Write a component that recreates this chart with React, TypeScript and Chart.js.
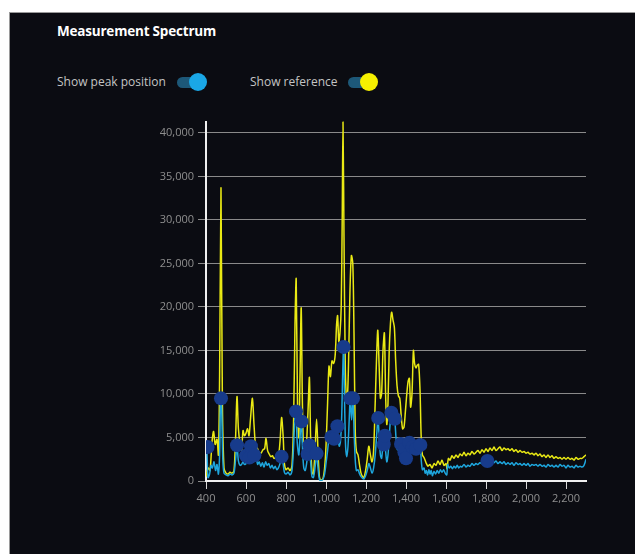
import React, { useEffect, useRef } from "react";
import { Chart, registerables } from "chart.js";

Chart.register(...registerables);

// Reference spectrum (yellow)
const refX = [
  400, 410, 420, 430, 438, 446, 455, 462, 468, 475, 482, 490, 500, 510, 520, 530, 540, 548, 555, 562,
  570, 578, 585, 592, 600, 608, 615, 622, 632, 640, 648, 656, 665, 675, 685, 693, 700, 708, 716, 724,
  732, 740, 750, 760, 770, 778, 786, 792, 800, 810, 820, 830, 838, 845, 851, 858, 864, 870, 876, 882,
  888, 895, 902, 910, 917, 923, 930, 937, 945, 953, 960, 967, 975, 985, 993, 1000, 1008, 1015, 1022, 1030,
  1038, 1046, 1053, 1058, 1064, 1070, 1076, 1081, 1085, 1090, 1096, 1102, 1108, 1114, 1120, 1127, 1134, 1140, 1146, 1152,
  1160, 1168, 1175, 1183, 1190, 1198, 1206, 1214, 1222, 1230, 1238, 1246, 1254, 1259, 1266, 1272, 1278, 1285, 1292, 1298,
  1304, 1310, 1316, 1322, 1328, 1335, 1342, 1348, 1355, 1362, 1369, 1376, 1383, 1390, 1397, 1404, 1411, 1417, 1423, 1430,
  1437, 1443, 1450, 1456, 1463, 1470, 1476, 1482, 1490, 1500, 1510, 1520, 1530, 1540, 1550, 1560, 1570, 1580, 1590, 1600,
  1605, 1612, 1620, 1630, 1640, 1650, 1660, 1670, 1680, 1690, 1700, 1710, 1720, 1730, 1740, 1750, 1760, 1770, 1780, 1790,
  1800, 1810, 1820, 1830, 1840, 1850, 1860, 1870, 1880, 1890, 1900, 1910, 1920, 1930, 1940, 1950, 1960, 1970, 1980, 1990,
  2000, 2010, 2020, 2030, 2040, 2050, 2060, 2070, 2080, 2090, 2100, 2110, 2120, 2130, 2140, 2150, 2160, 2170, 2180, 2190,
  2200, 2210, 2220, 2230, 2240, 2250, 2260, 2270, 2280, 2290, 2300,
];
const refY = [
  500, 1500, 1200, 4500, 5700, 4200, 4800, 3000, 12000, 33700, 9000, 1500, 900, 800, 1000, 900, 1200, 5000, 9700, 6000,
  4300, 3500, 5800, 5200, 5500, 6000, 5200, 7000, 9500, 6500, 4000, 3800, 3300, 3200, 3600, 3700, 4900, 3500, 3100, 2800,
  2900, 2600, 2700, 2500, 4500, 7300, 5000, 2000, 1300, 1500, 1200, 1800, 7000, 18000, 23200, 8000, 5000, 12000, 19900, 9000,
  3500, 2500, 4000, 8000, 11900, 5000, 1000, 800, 3500, 7100, 3500, 500, 100, 300, 1500, 4000, 9000, 13200, 12000, 13800,
  13500, 14500, 18000, 19000, 16000, 17000, 20000, 30000, 41300, 28000, 14000, 9500, 10000, 15000, 22000, 25900, 25000, 17000, 6000, 3400,
  3000, 1800, 900, 500, 400, 1200, 2500, 4000, 3000, 2200, 3500, 9000, 15000, 17300, 13000, 9500, 10000, 15000, 17000, 10000,
  6500, 9000, 15000, 18000, 19400, 18500, 17600, 14000, 11000, 9800, 9500, 7500, 6000, 6200, 8000, 10000, 11500, 11800, 8500, 10000,
  15000, 13500, 13000, 13300, 13400, 10500, 5000, 3000, 2700, 2100, 1700, 1900, 1500, 2000, 1800, 2300, 1900, 2400, 1800, 2000,
  1400, 2600, 2400, 2900, 2600, 3000, 2700, 3100, 2900, 3300, 2900, 3200, 3000, 3400, 3100, 3300, 3500, 3200, 3600, 3300,
  3700, 3400, 3800, 3500, 3900, 3500, 3700, 3900, 3500, 3800, 3600, 3700, 3500, 3700, 3400, 3600, 3300, 3500, 3300, 3400,
  3200, 3300, 3100, 3200, 3000, 3200, 2900, 3100, 2800, 3000, 2700, 3000, 2700, 2900, 2600, 2800, 2600, 2700, 2500, 2700,
  2500, 2700, 2500, 2600, 2400, 2700, 2500, 2600, 2600, 2800, 3000,
];

// Measured spectrum (blue)
const measX = [
  400, 404, 410, 418, 425, 432, 440, 448, 455, 462, 468, 473, 478, 484, 490, 500, 510, 520, 530, 540,
  548, 555, 562, 570, 578, 585, 592, 600, 608, 615, 622, 628, 635, 642, 650, 658, 666, 674, 682, 690,
  698, 706, 714, 722, 730, 738, 746, 754, 762, 770, 778, 786, 792, 800, 810, 820, 830, 838, 845, 850,
  856, 864, 870, 877, 883, 889, 896, 903, 909, 916, 923, 930, 937, 945, 953, 960, 967, 975, 985, 993,
  1000, 1008, 1015, 1022, 1030, 1038, 1046, 1053, 1060, 1066, 1072, 1078, 1083, 1088, 1093, 1098, 1104, 1110, 1116, 1121,
  1128, 1135, 1140, 1146, 1152, 1160, 1168, 1175, 1183, 1190, 1198, 1206, 1214, 1222, 1230, 1238, 1246, 1254, 1260, 1266,
  1272, 1278, 1285, 1292, 1298, 1304, 1310, 1316, 1322, 1328, 1335, 1343, 1350, 1357, 1364, 1371, 1378, 1385, 1392, 1397,
  1402, 1408, 1414, 1420, 1426, 1433, 1440, 1446, 1452, 1458, 1465, 1471, 1476, 1482, 1490, 1496, 1502, 1508, 1514, 1520,
  1526, 1532, 1540, 1548, 1556, 1564, 1572, 1580, 1588, 1596, 1604, 1608, 1616, 1624, 1632, 1640, 1648, 1656, 1664, 1672,
  1680, 1690, 1700, 1710, 1720, 1730, 1740, 1750, 1760, 1770, 1780, 1790, 1800, 1810, 1820, 1830, 1840, 1850, 1860, 1870,
  1880, 1890, 1900, 1910, 1920, 1930, 1940, 1950, 1960, 1970, 1980, 1990, 2000, 2010, 2020, 2030, 2040, 2050, 2060, 2070,
  2080, 2090, 2100, 2110, 2120, 2130, 2140, 2150, 2160, 2170, 2180, 2190, 2200, 2210, 2220, 2230, 2240, 2250, 2260, 2270,
  2280, 2290, 2300,
];
const measY = [
  3900, 3700, 400, 800, 1800, 1500, 2200, 1200, 1900, 800, 3000, 9500, 8500, 2500, 900, 700, 600, 800, 700, 900,
  2500, 4100, 2300, 1800, 1900, 2200, 1900, 2000, 2800, 2400, 3000, 4000, 3200, 2600, 2900, 1900, 2200, 1700, 2100, 1600,
  2200, 1800, 2000, 1500, 1800, 1400, 1700, 1300, 1500, 2000, 2800, 1900, 1000, 800, 1000, 700, 1200, 4000, 7500, 8100,
  4500, 3000, 5000, 6850, 3500, 1500, 1200, 2000, 3100, 4100, 2200, 500, 400, 1500, 3100, 1500, 200, 50, 200, 800,
  2000, 3500, 4800, 5000, 4800, 4700, 5500, 6300, 5000, 4000, 4500, 7000, 12000, 15400, 9000, 4000, 2800, 4000, 7000, 9500,
  7000, 9500, 6000, 2500, 1200, 1300, 800, 500, 300, 250, 600, 1200, 2000, 1500, 900, 1500, 3000, 5500, 7200, 5000,
  3000, 2600, 4200, 5200, 3500, 2200, 3000, 5000, 7000, 7800, 6500, 7100, 5000, 3600, 3900, 4200, 4300, 3500, 3300, 3600,
  2600, 3500, 4200, 4400, 3800, 3900, 3600, 3700, 3600, 3900, 4100, 4200, 2500, 1300, 1500, 900, 1200, 700, 1300, 800,
  1200, 600, 1100, 800, 1200, 900, 1300, 1000, 1300, 900, 700, 1900, 1500, 1700, 1400, 1700, 1500, 1800, 1500, 1700,
  1600, 1900, 1600, 1800, 1700, 2000, 1800, 2000, 1900, 2100, 2000, 2200, 2100, 2300, 2100, 2300, 2100, 2300, 2000, 2200,
  2000, 2200, 1900, 2100, 1900, 2100, 1800, 2100, 1900, 2000, 1800, 2000, 1800, 2000, 1700, 1900, 1800, 1900, 1700, 1900,
  1700, 1800, 1600, 1900, 1700, 1800, 1600, 1800, 1600, 1900, 1700, 1800, 1500, 1800, 1600, 1700, 1500, 1800, 1600, 1700,
  1600, 1800, 2500,
];

// Detected peak positions
const peakX = [
  408, 475, 555, 600, 617, 625, 642, 778, 850, 877, 908, 917, 953, 1027, 1040, 1057, 1088, 1122, 1135, 1261,
  1289, 1294, 1327, 1344, 1375, 1392, 1395, 1400, 1417, 1433, 1450, 1472, 1807,
];
const peakY = [
  3900, 9500, 4100, 2900, 2700, 4000, 2950, 2800, 8000, 6850, 3100, 4100, 3150, 5050, 4850, 6300, 15400, 9500, 9500, 7250,
  4200, 5200, 7850, 7150, 4250, 3300, 3700, 2600, 4400, 3900, 3700, 4150, 2300,
];

// Axis tick values
const xTicks = [400, 600, 800, 1000, 1200, 1400, 1600, 1800, 2000, 2200];
const yTicks = [0, 5000, 10000, 15000, 20000, 25000, 30000, 35000, 40000];

const FONT = "'Open Sans', 'Noto Sans', sans-serif";

function Toggle({ knob }: { knob: string }) {
  return (
    <span style={{ position: "relative", display: "inline-block", width: 30, height: 16, verticalAlign: "middle" }}>
      <span
        style={{
          position: "absolute",
          left: 0,
          top: 3,
          width: 27,
          height: 11,
          borderRadius: 6,
          background: "#1d5878",
        }}
      />
      <span
        style={{
          position: "absolute",
          left: 12,
          top: -1,
          width: 18,
          height: 18,
          borderRadius: 9,
          background: knob,
        }}
      />
    </span>
  );
}

export default function App() {
  const ref = useRef<HTMLCanvasElement | null>(null);

  useEffect(() => {
    document.body.style.overflow = "hidden";
    const ctx = ref.current!;
    const toPts = (xs: number[], ys: number[]) => xs.map((x, i) => ({ x, y: ys[i] }));
    const chart = new Chart(ctx, {
      type: "line",
      data: {
        datasets: [
          {
            label: "Peaks",
            data: toPts(peakX, peakY),
            showLine: false,
            pointRadius: 7,
            pointBackgroundColor: "#173b8b",
            pointBorderWidth: 0,
            backgroundColor: "#173b8b",
          },
          {
            label: "Measurement",
            data: toPts(measX, measY),
            borderColor: "#1ea6dd",
            borderWidth: 1.5,
            pointRadius: 0,
            tension: 0.3,
          },
          {
            label: "Reference",
            data: toPts(refX, refY),
            borderColor: "#e9e914",
            borderWidth: 1.5,
            pointRadius: 0,
            tension: 0.3,
          },
        ],
      },
      options: {
        animation: false,
        responsive: false,
        maintainAspectRatio: false,
        layout: { padding: { top: 10, right: 15, bottom: 0, left: 0 } },
        plugins: { legend: { display: false }, tooltip: { enabled: false } },
        scales: {
          x: {
            type: "linear",
            min: 400,
            max: 2300,
            afterFit: (s: any) => {
              s.height = 50;
            },
            afterBuildTicks: (s: any) => {
              s.ticks = xTicks.map((v) => ({ value: v }));
            },
            ticks: {
              color: "#8f8f8f",
              font: { size: 11, family: FONT },
              maxRotation: 0,
              autoSkip: false,
              padding: 3,
            },
            grid: { drawOnChartArea: false, drawTicks: true, tickLength: 8, color: "#d8d8d8" },
            border: { color: "#f0f0f0", width: 2 },
          },
          y: {
            type: "linear",
            min: 0,
            max: 41300,
            afterFit: (s: any) => {
              s.width = 65;
            },
            afterBuildTicks: (s: any) => {
              s.ticks = yTicks.map((v) => ({ value: v }));
            },
            ticks: {
              color: "#8f8f8f",
              font: { size: 11, family: FONT },
              autoSkip: false,
              padding: 4,
            },
            grid: { color: "#8a8a8a", tickLength: 8, lineWidth: 1 },
            border: { color: "#f0f0f0", width: 2 },
          },
        },
      },
    });
    return () => chart.destroy();
  }, []);

  return (
    <div
      style={{
        position: "absolute",
        left: 9,
        top: 12,
        width: 626,
        height: 542,
        background: "#0b0c12",
        borderLeft: "1px solid #9a9a9a",
        borderTop: "1px solid #9a9a9a",
        fontFamily: FONT,
        overflow: "hidden",
      }}
    >
      <div
        style={{
          position: "absolute",
          left: 47,
          top: 9,
          color: "#ffffff",
          fontWeight: 700,
          fontSize: 13.5,
          letterSpacing: -0.2,
        }}
      >
        Measurement Spectrum
      </div>
      <div style={{ position: "absolute", left: 47, top: 59, color: "#c4c4c4", fontSize: 12, whiteSpace: "nowrap" }}>
        <span style={{ verticalAlign: "middle" }}>Show peak position</span>
        <span style={{ display: "inline-block", width: 11 }} />
        <Toggle knob="#1aa7e6" />
      </div>
      <div style={{ position: "absolute", left: 240, top: 59, color: "#c4c4c4", fontSize: 12, whiteSpace: "nowrap" }}>
        <span style={{ verticalAlign: "middle" }}>Show reference</span>
        <span style={{ display: "inline-block", width: 11 }} />
        <Toggle knob="#f5f000" />
      </div>
      <canvas
        ref={ref}
        width={460}
        height={420}
        style={{ position: "absolute", left: 131, top: 98, width: 460, height: 420 }}
      />
    </div>
  );
}
